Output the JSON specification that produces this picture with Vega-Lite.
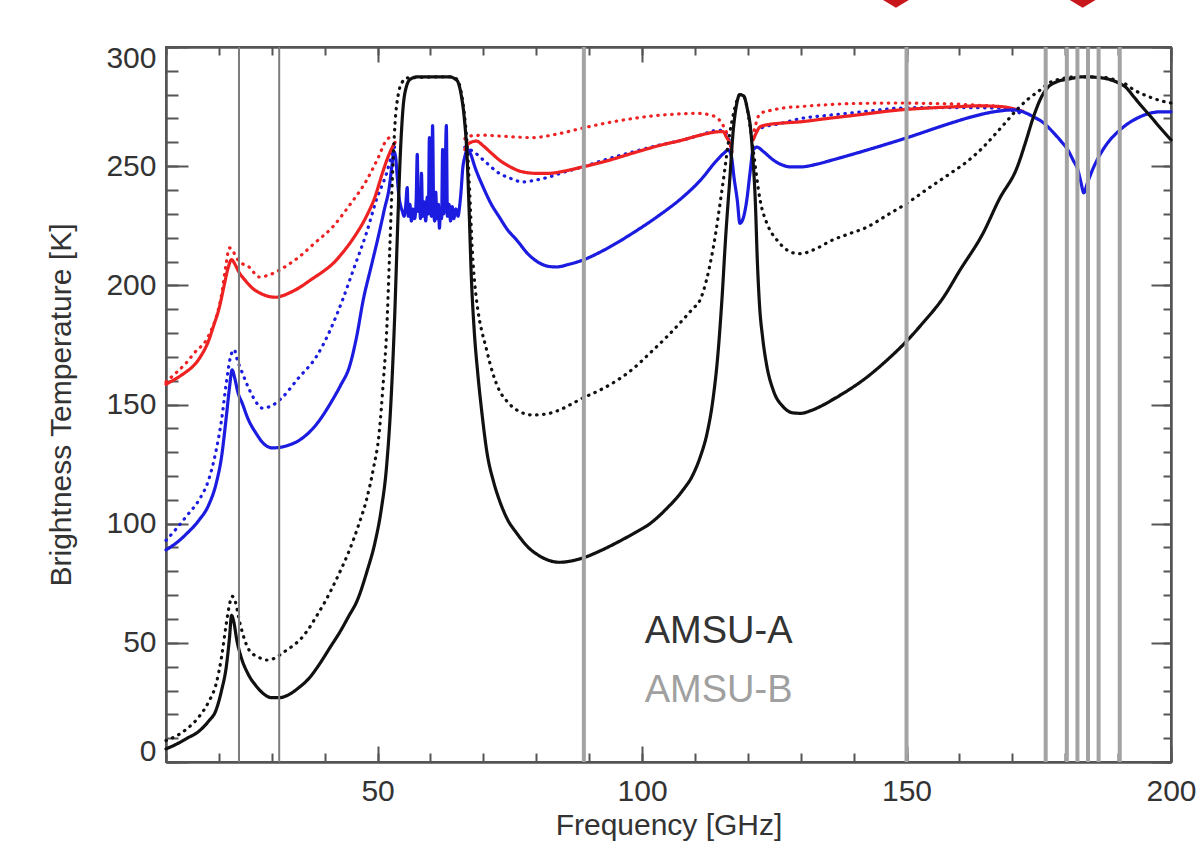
{
  "$schema": "https://vega.github.io/schema/vega-lite/v6.json",
  "width": 1005,
  "height": 715,
  "autosize": "none",
  "padding": {"left": 166, "top": 47, "right": 30, "bottom": 103},
  "background": "#ffffff",
  "config": {
    "view": {"stroke": "#555555", "strokeWidth": 2},
    "axis": {
      "grid": false,
      "domainColor": "#555555",
      "domainWidth": 2,
      "tickColor": "#555555",
      "tickWidth": 2,
      "labelColor": "#333333",
      "labelFont": "Liberation Sans",
      "labelFontSize": 30,
      "titleFont": "Liberation Sans",
      "titleFontSize": 30,
      "titleFontWeight": "normal",
      "titleColor": "#333333",
      "labelOverlap": false
    }
  },
  "resolve": {"scale": {"x": "independent", "y": "independent", "color": "independent", "strokeWidth": "independent", "strokeDash": "independent"}, "axis": {"x": "independent", "y": "independent"}},
  "layer": [
    {
      "data": {"values": [
        {"s":"bd","g":"bd1","f":10,"t":93},{"s":"bd","g":"bd1","f":12,"t":98},{"s":"bd","g":"bd1","f":14,"t":103.5},{"s":"bd","g":"bd1","f":16.25,"t":110},{"s":"bd","g":"bd1","f":18,"t":118},{"s":"bd","g":"bd1","f":19.5,"t":131},{"s":"bd","g":"bd1","f":20.5,"t":143.5},{"s":"bd","g":"bd1","f":21.4,"t":159},{"s":"bd","g":"bd1","f":22.2,"t":170},{"s":"bd","g":"bd1","f":22.9,"t":173},{"s":"bd","g":"bd1","f":23.5,"t":168.5},{"s":"bd","g":"bd1","f":24.3,"t":164},{"s":"bd","g":"bd1","f":25.2,"t":159},{"s":"bd","g":"bd1","f":26.5,"t":153},{"s":"bd","g":"bd1","f":28.2,"t":148.5},{"s":"bd","g":"bd1","f":30,"t":149.5},{"s":"bd","g":"bd1","f":32,"t":153},{"s":"bd","g":"bd1","f":35,"t":161},{"s":"bd","g":"bd1","f":38.4,"t":170},{"s":"bd","g":"bd1","f":41,"t":181},{"s":"bd","g":"bd1","f":43.4,"t":194},{"s":"bd","g":"bd1","f":45.5,"t":207},{"s":"bd","g":"bd1","f":47.9,"t":222},{"s":"bd","g":"bd1","f":49.8,"t":236},{"s":"bd","g":"bd1","f":51.7,"t":247},{"s":"bd","g":"bd1","f":52.8,"t":255.5},{"s":"bd","g":"bd1","f":53.2,"t":258},
        {"s":"bd","g":"bd2","f":66.5,"t":258},{"s":"bd","g":"bd2","f":67,"t":257.5},{"s":"bd","g":"bd2","f":68.5,"t":255.5},{"s":"bd","g":"bd2","f":70,"t":252.6},{"s":"bd","g":"bd2","f":73,"t":247},{"s":"bd","g":"bd2","f":75,"t":245},{"s":"bd","g":"bd2","f":77.4,"t":243.4},{"s":"bd","g":"bd2","f":80,"t":244.2},{"s":"bd","g":"bd2","f":82.5,"t":245.5},{"s":"bd","g":"bd2","f":85,"t":247.3},{"s":"bd","g":"bd2","f":88.8,"t":249.7},{"s":"bd","g":"bd2","f":93,"t":252.7},{"s":"bd","g":"bd2","f":98.3,"t":256},{"s":"bd","g":"bd2","f":103,"t":258.7},{"s":"bd","g":"bd2","f":107.7,"t":261},{"s":"bd","g":"bd2","f":111,"t":263},{"s":"bd","g":"bd2","f":114.2,"t":265},{"s":"bd","g":"bd2","f":115.3,"t":265},{"s":"bd","g":"bd2","f":116,"t":263.5},{"s":"bd","g":"bd2","f":116.6,"t":260},
        {"s":"bd","g":"bd3","f":121,"t":262},{"s":"bd","g":"bd3","f":121.6,"t":264.5},{"s":"bd","g":"bd3","f":122.5,"t":266},{"s":"bd","g":"bd3","f":126,"t":267.8},{"s":"bd","g":"bd3","f":130,"t":270},{"s":"bd","g":"bd3","f":135,"t":271.3},{"s":"bd","g":"bd3","f":139.4,"t":272.3},{"s":"bd","g":"bd3","f":144,"t":273.4},{"s":"bd","g":"bd3","f":148.8,"t":274.4},{"s":"bd","g":"bd3","f":155,"t":274.6},{"s":"bd","g":"bd3","f":160,"t":274.6},{"s":"bd","g":"bd3","f":164,"t":274.5},{"s":"bd","g":"bd3","f":167.8,"t":274.4},{"s":"bd","g":"bd3","f":170,"t":273.3},{"s":"bd","g":"bd3","f":171.5,"t":272.3},

        {"s":"rd","g":"rd1","f":10,"t":159.5},{"s":"rd","g":"rd1","f":12,"t":163.5},{"s":"rd","g":"rd1","f":13.8,"t":167.4},{"s":"rd","g":"rd1","f":15.5,"t":172},{"s":"rd","g":"rd1","f":17.6,"t":177},{"s":"rd","g":"rd1","f":18.7,"t":182},{"s":"rd","g":"rd1","f":19.5,"t":186.7},{"s":"rd","g":"rd1","f":20.5,"t":196},{"s":"rd","g":"rd1","f":21.3,"t":208},{"s":"rd","g":"rd1","f":22,"t":215.7},{"s":"rd","g":"rd1","f":22.6,"t":214.5},{"s":"rd","g":"rd1","f":23.5,"t":211},{"s":"rd","g":"rd1","f":24.5,"t":209},{"s":"rd","g":"rd1","f":25.7,"t":207.7},{"s":"rd","g":"rd1","f":27.6,"t":203.5},{"s":"rd","g":"rd1","f":29,"t":204},{"s":"rd","g":"rd1","f":30.8,"t":205.6},{"s":"rd","g":"rd1","f":33,"t":208.5},{"s":"rd","g":"rd1","f":35.2,"t":212},{"s":"rd","g":"rd1","f":38,"t":217.5},{"s":"rd","g":"rd1","f":41.5,"t":224.5},{"s":"rd","g":"rd1","f":44.5,"t":233},{"s":"rd","g":"rd1","f":47.9,"t":244},{"s":"rd","g":"rd1","f":50,"t":253},{"s":"rd","g":"rd1","f":51.7,"t":261},{"s":"rd","g":"rd1","f":52.2,"t":262},
        {"s":"rd","g":"rd2","f":66.5,"t":261.5},{"s":"rd","g":"rd2","f":67,"t":262.5},{"s":"rd","g":"rd2","f":70,"t":263},{"s":"rd","g":"rd2","f":74,"t":262.5},{"s":"rd","g":"rd2","f":79.3,"t":262},{"s":"rd","g":"rd2","f":84,"t":263.5},{"s":"rd","g":"rd2","f":88.8,"t":266},{"s":"rd","g":"rd2","f":93,"t":268},{"s":"rd","g":"rd2","f":98.3,"t":270},{"s":"rd","g":"rd2","f":103,"t":271.3},{"s":"rd","g":"rd2","f":107.7,"t":272},{"s":"rd","g":"rd2","f":110.5,"t":272.2},{"s":"rd","g":"rd2","f":112.8,"t":271.5},{"s":"rd","g":"rd2","f":114,"t":270.5},{"s":"rd","g":"rd2","f":115.1,"t":268},{"s":"rd","g":"rd2","f":115.8,"t":265},{"s":"rd","g":"rd2","f":116.4,"t":262},
        {"s":"rd","g":"rd3","f":121.2,"t":265},{"s":"rd","g":"rd3","f":122.3,"t":272},{"s":"rd","g":"rd3","f":124.5,"t":273.5},{"s":"rd","g":"rd3","f":127,"t":274.5},{"s":"rd","g":"rd3","f":129.9,"t":275},{"s":"rd","g":"rd3","f":135,"t":275.8},{"s":"rd","g":"rd3","f":140,"t":276.3},{"s":"rd","g":"rd3","f":148.8,"t":276.5},{"s":"rd","g":"rd3","f":155,"t":276.3},{"s":"rd","g":"rd3","f":160,"t":276},{"s":"rd","g":"rd3","f":164,"t":275.5},{"s":"rd","g":"rd3","f":167.8,"t":275},{"s":"rd","g":"rd3","f":170,"t":274},{"s":"rd","g":"rd3","f":171.5,"t":272.8},

        {"s":"rs","g":"rs1","f":10,"t":158.5},{"s":"rs","g":"rs1","f":12,"t":161},{"s":"rs","g":"rs1","f":14,"t":164},{"s":"rs","g":"rs1","f":15,"t":165.8},{"s":"rs","g":"rs1","f":16.5,"t":170},{"s":"rs","g":"rs1","f":18.1,"t":177},{"s":"rs","g":"rs1","f":19,"t":183},{"s":"rs","g":"rs1","f":20,"t":190},{"s":"rs","g":"rs1","f":21,"t":200},{"s":"rs","g":"rs1","f":21.7,"t":207},{"s":"rs","g":"rs1","f":22.4,"t":210.8},{"s":"rs","g":"rs1","f":23,"t":209},{"s":"rs","g":"rs1","f":23.8,"t":205.5},{"s":"rs","g":"rs1","f":25,"t":202},{"s":"rs","g":"rs1","f":26.5,"t":198.5},{"s":"rs","g":"rs1","f":28,"t":196.5},{"s":"rs","g":"rs1","f":29.5,"t":195.3},{"s":"rs","g":"rs1","f":30.8,"t":195},{"s":"rs","g":"rs1","f":32,"t":195.6},{"s":"rs","g":"rs1","f":33.5,"t":197},{"s":"rs","g":"rs1","f":35.2,"t":199},{"s":"rs","g":"rs1","f":37.5,"t":202.5},{"s":"rs","g":"rs1","f":39.5,"t":205.5},{"s":"rs","g":"rs1","f":41.5,"t":209},{"s":"rs","g":"rs1","f":43.5,"t":214},{"s":"rs","g":"rs1","f":45.5,"t":220},{"s":"rs","g":"rs1","f":47.9,"t":229},{"s":"rs","g":"rs1","f":49.5,"t":237},{"s":"rs","g":"rs1","f":50.9,"t":247},{"s":"rs","g":"rs1","f":52,"t":254},{"s":"rs","g":"rs1","f":52.8,"t":258},{"s":"rs","g":"rs1","f":53.3,"t":260},
        {"s":"rs","g":"rs2","f":66.5,"t":257},{"s":"rs","g":"rs2","f":67.2,"t":259.5},{"s":"rs","g":"rs2","f":68.7,"t":260.5},{"s":"rs","g":"rs2","f":70,"t":258.5},{"s":"rs","g":"rs2","f":71.5,"t":255.5},{"s":"rs","g":"rs2","f":73,"t":252.6},{"s":"rs","g":"rs2","f":75,"t":249.8},{"s":"rs","g":"rs2","f":77.4,"t":247.6},{"s":"rs","g":"rs2","f":80,"t":247},{"s":"rs","g":"rs2","f":82.5,"t":247},{"s":"rs","g":"rs2","f":85,"t":247.8},{"s":"rs","g":"rs2","f":88.8,"t":249.7},{"s":"rs","g":"rs2","f":93,"t":252},{"s":"rs","g":"rs2","f":98.3,"t":255.5},{"s":"rs","g":"rs2","f":103,"t":258.5},{"s":"rs","g":"rs2","f":107.7,"t":261},{"s":"rs","g":"rs2","f":111,"t":263},{"s":"rs","g":"rs2","f":114.2,"t":264.4},{"s":"rs","g":"rs2","f":115.3,"t":264.5},{"s":"rs","g":"rs2","f":116,"t":262},{"s":"rs","g":"rs2","f":116.6,"t":259.5},{"s":"rs","g":"rs2","f":117,"t":256},
        {"s":"rs","g":"rs3","f":121,"t":261},{"s":"rs","g":"rs3","f":121.6,"t":264},{"s":"rs","g":"rs3","f":122.3,"t":266.5},{"s":"rs","g":"rs3","f":124,"t":267.5},{"s":"rs","g":"rs3","f":126,"t":268},{"s":"rs","g":"rs3","f":129.9,"t":268.6},{"s":"rs","g":"rs3","f":135,"t":270},{"s":"rs","g":"rs3","f":140,"t":271.3},{"s":"rs","g":"rs3","f":148.8,"t":273.6},{"s":"rs","g":"rs3","f":155,"t":274.5},{"s":"rs","g":"rs3","f":160,"t":275},{"s":"rs","g":"rs3","f":164,"t":275.3},{"s":"rs","g":"rs3","f":167.8,"t":275},{"s":"rs","g":"rs3","f":170,"t":274.2},{"s":"rs","g":"rs3","f":172,"t":273},

        {"s":"bs","g":"bs","f":10,"t":89},{"s":"bs","g":"bs","f":12,"t":92},{"s":"bs","g":"bs","f":14,"t":96},{"s":"bs","g":"bs","f":16.25,"t":101.5},{"s":"bs","g":"bs","f":18,"t":107.5},{"s":"bs","g":"bs","f":19.5,"t":117},{"s":"bs","g":"bs","f":20.5,"t":128},{"s":"bs","g":"bs","f":21.4,"t":144.8},{"s":"bs","g":"bs","f":22,"t":157},{"s":"bs","g":"bs","f":22.5,"t":164.5},{"s":"bs","g":"bs","f":23,"t":161},{"s":"bs","g":"bs","f":23.6,"t":155},{"s":"bs","g":"bs","f":24.4,"t":150.6},{"s":"bs","g":"bs","f":25.5,"t":144},{"s":"bs","g":"bs","f":27,"t":138},{"s":"bs","g":"bs","f":28.5,"t":133.5},{"s":"bs","g":"bs","f":30.1,"t":131.8},{"s":"bs","g":"bs","f":31.5,"t":132},{"s":"bs","g":"bs","f":33,"t":132.8},{"s":"bs","g":"bs","f":35.2,"t":135},{"s":"bs","g":"bs","f":38,"t":140.5},{"s":"bs","g":"bs","f":41.5,"t":152},{"s":"bs","g":"bs","f":43,"t":158},{"s":"bs","g":"bs","f":44.7,"t":166},{"s":"bs","g":"bs","f":46,"t":178},{"s":"bs","g":"bs","f":47.3,"t":194},{"s":"bs","g":"bs","f":48.8,"t":208},{"s":"bs","g":"bs","f":50.3,"t":222},{"s":"bs","g":"bs","f":51.3,"t":232},{"s":"bs","g":"bs","f":52.2,"t":241},{"s":"bs","g":"bs","f":52.7,"t":250},{"s":"bs","g":"bs","f":53.1,"t":256},{"s":"bs","g":"bs","f":53.4,"t":254},{"s":"bs","g":"bs","f":53.7,"t":246},{"s":"bs","g":"bs","f":54,"t":238},{"s":"bs","g":"bs","f":54.4,"t":233},{"s":"bs","g":"bs","f":54.7,"t":231},
        {"s":"bs","g":"bs","f":55,"t":229},{"s":"bs","g":"bs","f":55.3,"t":233},{"s":"bs","g":"bs","f":55.6,"t":241},{"s":"bs","g":"bs","f":55.8,"t":229},{"s":"bs","g":"bs","f":56.1,"t":234},{"s":"bs","g":"bs","f":56.4,"t":227},{"s":"bs","g":"bs","f":56.7,"t":232},{"s":"bs","g":"bs","f":57,"t":228},{"s":"bs","g":"bs","f":57.3,"t":236},{"s":"bs","g":"bs","f":57.5,"t":255},{"s":"bs","g":"bs","f":57.7,"t":231},{"s":"bs","g":"bs","f":57.9,"t":240},{"s":"bs","g":"bs","f":58.1,"t":228},{"s":"bs","g":"bs","f":58.3,"t":247},{"s":"bs","g":"bs","f":58.5,"t":229},{"s":"bs","g":"bs","f":58.8,"t":235},{"s":"bs","g":"bs","f":59.1,"t":227},{"s":"bs","g":"bs","f":59.4,"t":237},{"s":"bs","g":"bs","f":59.6,"t":230},{"s":"bs","g":"bs","f":59.8,"t":262},{"s":"bs","g":"bs","f":60,"t":235},{"s":"bs","g":"bs","f":60.2,"t":229},{"s":"bs","g":"bs","f":60.4,"t":267},{"s":"bs","g":"bs","f":60.6,"t":232},{"s":"bs","g":"bs","f":60.8,"t":227},{"s":"bs","g":"bs","f":61,"t":239},{"s":"bs","g":"bs","f":61.2,"t":228},{"s":"bs","g":"bs","f":61.5,"t":234},{"s":"bs","g":"bs","f":61.7,"t":224},{"s":"bs","g":"bs","f":61.9,"t":232},{"s":"bs","g":"bs","f":62.1,"t":228},{"s":"bs","g":"bs","f":62.3,"t":257},{"s":"bs","g":"bs","f":62.5,"t":230},{"s":"bs","g":"bs","f":62.7,"t":236},{"s":"bs","g":"bs","f":63,"t":267},{"s":"bs","g":"bs","f":63.2,"t":229},{"s":"bs","g":"bs","f":63.5,"t":234},{"s":"bs","g":"bs","f":63.8,"t":227},{"s":"bs","g":"bs","f":64.1,"t":233},{"s":"bs","g":"bs","f":64.4,"t":228},{"s":"bs","g":"bs","f":64.8,"t":232},{"s":"bs","g":"bs","f":65.2,"t":229},{"s":"bs","g":"bs","f":65.5,"t":233},{"s":"bs","g":"bs","f":65.8,"t":240},{"s":"bs","g":"bs","f":66.1,"t":249},{"s":"bs","g":"bs","f":66.5,"t":254},{"s":"bs","g":"bs","f":67,"t":257},
        {"s":"bs","g":"bs","f":67.5,"t":255.5},{"s":"bs","g":"bs","f":68.5,"t":249},{"s":"bs","g":"bs","f":70,"t":241},{"s":"bs","g":"bs","f":71.5,"t":234},{"s":"bs","g":"bs","f":73,"t":228.7},{"s":"bs","g":"bs","f":74.5,"t":223.5},{"s":"bs","g":"bs","f":76.3,"t":219},{"s":"bs","g":"bs","f":78.5,"t":213},{"s":"bs","g":"bs","f":80.6,"t":209.4},{"s":"bs","g":"bs","f":82.2,"t":208},{"s":"bs","g":"bs","f":83.8,"t":207.7},{"s":"bs","g":"bs","f":86,"t":208.7},{"s":"bs","g":"bs","f":88.8,"t":210.6},{"s":"bs","g":"bs","f":93,"t":215},{"s":"bs","g":"bs","f":98.3,"t":222},{"s":"bs","g":"bs","f":103,"t":229},{"s":"bs","g":"bs","f":107.7,"t":237},{"s":"bs","g":"bs","f":111,"t":244},{"s":"bs","g":"bs","f":114.2,"t":252.6},{"s":"bs","g":"bs","f":115.5,"t":255.5},{"s":"bs","g":"bs","f":116.3,"t":256.8},{"s":"bs","g":"bs","f":116.9,"t":254},{"s":"bs","g":"bs","f":117.4,"t":245},{"s":"bs","g":"bs","f":118,"t":235.8},{"s":"bs","g":"bs","f":118.5,"t":226},{"s":"bs","g":"bs","f":119.1,"t":228},{"s":"bs","g":"bs","f":119.8,"t":235.8},{"s":"bs","g":"bs","f":120.4,"t":247},{"s":"bs","g":"bs","f":121,"t":256.8},{"s":"bs","g":"bs","f":121.7,"t":258},{"s":"bs","g":"bs","f":123,"t":256},{"s":"bs","g":"bs","f":124.8,"t":252.6},{"s":"bs","g":"bs","f":126.5,"t":250.5},{"s":"bs","g":"bs","f":128,"t":249.7},{"s":"bs","g":"bs","f":130,"t":249.7},{"s":"bs","g":"bs","f":133,"t":250.8},{"s":"bs","g":"bs","f":136,"t":252.6},{"s":"bs","g":"bs","f":142.6,"t":256.8},{"s":"bs","g":"bs","f":150.2,"t":262},{"s":"bs","g":"bs","f":158.3,"t":268},{"s":"bs","g":"bs","f":162.5,"t":270.8},{"s":"bs","g":"bs","f":166.5,"t":272.8},{"s":"bs","g":"bs","f":170.2,"t":273.6},{"s":"bs","g":"bs","f":172,"t":272.8},{"s":"bs","g":"bs","f":174,"t":270.7},{"s":"bs","g":"bs","f":176,"t":268},{"s":"bs","g":"bs","f":177.8,"t":264},{"s":"bs","g":"bs","f":179.2,"t":260.5},{"s":"bs","g":"bs","f":180.5,"t":256.8},{"s":"bs","g":"bs","f":181.5,"t":252.5},{"s":"bs","g":"bs","f":182.4,"t":248.4},{"s":"bs","g":"bs","f":183,"t":243},{"s":"bs","g":"bs","f":183.5,"t":238.8},{"s":"bs","g":"bs","f":184.2,"t":243},{"s":"bs","g":"bs","f":185.4,"t":249.7},{"s":"bs","g":"bs","f":186.5,"t":254.5},{"s":"bs","g":"bs","f":188,"t":259.7},{"s":"bs","g":"bs","f":190,"t":264.5},{"s":"bs","g":"bs","f":191.5,"t":267.3},{"s":"bs","g":"bs","f":193,"t":269.4},{"s":"bs","g":"bs","f":196.2,"t":272.3},{"s":"bs","g":"bs","f":198,"t":272.8},{"s":"bs","g":"bs","f":200,"t":272.8},

        {"s":"ks","g":"ks","f":10,"t":5.5},{"s":"ks","g":"ks","f":12,"t":7.5},{"s":"ks","g":"ks","f":14,"t":10},{"s":"ks","g":"ks","f":16,"t":12.5},{"s":"ks","g":"ks","f":18,"t":17},{"s":"ks","g":"ks","f":19.5,"t":22},{"s":"ks","g":"ks","f":20.5,"t":30},{"s":"ks","g":"ks","f":21.4,"t":40},{"s":"ks","g":"ks","f":22,"t":52},{"s":"ks","g":"ks","f":22.4,"t":61.5},{"s":"ks","g":"ks","f":22.8,"t":59},{"s":"ks","g":"ks","f":23.4,"t":51},{"s":"ks","g":"ks","f":24.2,"t":44},{"s":"ks","g":"ks","f":25.5,"t":37},{"s":"ks","g":"ks","f":27,"t":32},{"s":"ks","g":"ks","f":28.5,"t":28.5},{"s":"ks","g":"ks","f":30,"t":27},{"s":"ks","g":"ks","f":31.5,"t":27},{"s":"ks","g":"ks","f":33,"t":28},{"s":"ks","g":"ks","f":35,"t":31},{"s":"ks","g":"ks","f":37,"t":35},{"s":"ks","g":"ks","f":39,"t":41},{"s":"ks","g":"ks","f":41,"t":48},{"s":"ks","g":"ks","f":43,"t":55},{"s":"ks","g":"ks","f":44.5,"t":61},{"s":"ks","g":"ks","f":46.2,"t":68},{"s":"ks","g":"ks","f":48,"t":80},{"s":"ks","g":"ks","f":49.5,"t":92},{"s":"ks","g":"ks","f":50.7,"t":106},{"s":"ks","g":"ks","f":51.7,"t":124},{"s":"ks","g":"ks","f":52.5,"t":150},{"s":"ks","g":"ks","f":53.2,"t":185},{"s":"ks","g":"ks","f":53.8,"t":225},{"s":"ks","g":"ks","f":54.3,"t":255},{"s":"ks","g":"ks","f":54.8,"t":274},{"s":"ks","g":"ks","f":55.4,"t":283},{"s":"ks","g":"ks","f":56.2,"t":286.5},{"s":"ks","g":"ks","f":57.5,"t":287.5},{"s":"ks","g":"ks","f":63.5,"t":287.5},{"s":"ks","g":"ks","f":65,"t":286},{"s":"ks","g":"ks","f":65.8,"t":280},{"s":"ks","g":"ks","f":66.4,"t":270},{"s":"ks","g":"ks","f":66.9,"t":255},{"s":"ks","g":"ks","f":67.3,"t":232},{"s":"ks","g":"ks","f":67.7,"t":205},{"s":"ks","g":"ks","f":68.3,"t":180},{"s":"ks","g":"ks","f":68.9,"t":164},{"s":"ks","g":"ks","f":69.8,"t":145},{"s":"ks","g":"ks","f":70.6,"t":131},{"s":"ks","g":"ks","f":72,"t":117},{"s":"ks","g":"ks","f":73,"t":110},{"s":"ks","g":"ks","f":74.5,"t":102},{"s":"ks","g":"ks","f":76.3,"t":96},{"s":"ks","g":"ks","f":78.5,"t":90},{"s":"ks","g":"ks","f":80.6,"t":86.5},{"s":"ks","g":"ks","f":82.5,"t":84.5},{"s":"ks","g":"ks","f":84.4,"t":83.8},{"s":"ks","g":"ks","f":86.5,"t":84.3},{"s":"ks","g":"ks","f":88.8,"t":85.6},{"s":"ks","g":"ks","f":92,"t":88.5},{"s":"ks","g":"ks","f":95.2,"t":92},{"s":"ks","g":"ks","f":98.5,"t":96},{"s":"ks","g":"ks","f":101.5,"t":100},{"s":"ks","g":"ks","f":104.5,"t":106},{"s":"ks","g":"ks","f":107.7,"t":114},{"s":"ks","g":"ks","f":109.5,"t":120},{"s":"ks","g":"ks","f":111,"t":128},{"s":"ks","g":"ks","f":112.3,"t":138},{"s":"ks","g":"ks","f":113.4,"t":152},{"s":"ks","g":"ks","f":114.3,"t":170},{"s":"ks","g":"ks","f":115.1,"t":194},{"s":"ks","g":"ks","f":115.8,"t":220},{"s":"ks","g":"ks","f":116.6,"t":245},{"s":"ks","g":"ks","f":117.2,"t":264},{"s":"ks","g":"ks","f":117.8,"t":275},{"s":"ks","g":"ks","f":118.5,"t":280},{"s":"ks","g":"ks","f":119.2,"t":279.5},{"s":"ks","g":"ks","f":119.9,"t":274},{"s":"ks","g":"ks","f":120.5,"t":266},{"s":"ks","g":"ks","f":121,"t":252},{"s":"ks","g":"ks","f":121.4,"t":236},{"s":"ks","g":"ks","f":121.8,"t":210},{"s":"ks","g":"ks","f":122.2,"t":192},{"s":"ks","g":"ks","f":122.8,"t":178},{"s":"ks","g":"ks","f":123.6,"t":166},{"s":"ks","g":"ks","f":124.8,"t":156},{"s":"ks","g":"ks","f":126.7,"t":149},{"s":"ks","g":"ks","f":128.5,"t":146.5},{"s":"ks","g":"ks","f":130,"t":146.3},{"s":"ks","g":"ks","f":132,"t":147.5},{"s":"ks","g":"ks","f":134,"t":149.5},{"s":"ks","g":"ks","f":136,"t":152},{"s":"ks","g":"ks","f":139,"t":156},{"s":"ks","g":"ks","f":142.6,"t":161.6},{"s":"ks","g":"ks","f":146,"t":168},{"s":"ks","g":"ks","f":150.2,"t":177},{"s":"ks","g":"ks","f":153,"t":184},{"s":"ks","g":"ks","f":157,"t":195},{"s":"ks","g":"ks","f":160,"t":206},{"s":"ks","g":"ks","f":164.5,"t":222},{"s":"ks","g":"ks","f":167.5,"t":236},{"s":"ks","g":"ks","f":171,"t":250},{"s":"ks","g":"ks","f":172.5,"t":260},{"s":"ks","g":"ks","f":174,"t":270.7},{"s":"ks","g":"ks","f":175.5,"t":279},{"s":"ks","g":"ks","f":176.7,"t":283},{"s":"ks","g":"ks","f":178.5,"t":285.5},{"s":"ks","g":"ks","f":180.5,"t":286.5},{"s":"ks","g":"ks","f":183.5,"t":287.5},{"s":"ks","g":"ks","f":187,"t":287},{"s":"ks","g":"ks","f":190,"t":285},{"s":"ks","g":"ks","f":191.5,"t":283},{"s":"ks","g":"ks","f":193,"t":279},{"s":"ks","g":"ks","f":194.5,"t":275},{"s":"ks","g":"ks","f":196.2,"t":270.7},{"s":"ks","g":"ks","f":198,"t":266},{"s":"ks","g":"ks","f":200,"t":261},

        {"s":"kd","g":"kd","f":10,"t":9},{"s":"kd","g":"kd","f":12,"t":11},{"s":"kd","g":"kd","f":14,"t":14},{"s":"kd","g":"kd","f":16.25,"t":19},{"s":"kd","g":"kd","f":18,"t":25},{"s":"kd","g":"kd","f":19.5,"t":33},{"s":"kd","g":"kd","f":20.5,"t":44},{"s":"kd","g":"kd","f":21.4,"t":58},{"s":"kd","g":"kd","f":22,"t":66},{"s":"kd","g":"kd","f":22.5,"t":69.5},{"s":"kd","g":"kd","f":23,"t":68},{"s":"kd","g":"kd","f":24,"t":58},{"s":"kd","g":"kd","f":25.7,"t":47},{"s":"kd","g":"kd","f":27.5,"t":44},{"s":"kd","g":"kd","f":29,"t":42.8},{"s":"kd","g":"kd","f":30.5,"t":43.5},{"s":"kd","g":"kd","f":32,"t":45.7},{"s":"kd","g":"kd","f":33.5,"t":48},{"s":"kd","g":"kd","f":35.2,"t":51},{"s":"kd","g":"kd","f":37,"t":56},{"s":"kd","g":"kd","f":38.4,"t":61},{"s":"kd","g":"kd","f":40,"t":67},{"s":"kd","g":"kd","f":42.5,"t":78},{"s":"kd","g":"kd","f":44.7,"t":89},{"s":"kd","g":"kd","f":46.5,"t":100},{"s":"kd","g":"kd","f":47.9,"t":110},{"s":"kd","g":"kd","f":49.2,"t":123},{"s":"kd","g":"kd","f":50.3,"t":138},{"s":"kd","g":"kd","f":51.1,"t":160},{"s":"kd","g":"kd","f":51.7,"t":180},{"s":"kd","g":"kd","f":52.3,"t":215},{"s":"kd","g":"kd","f":52.8,"t":245},{"s":"kd","g":"kd","f":53.3,"t":268},{"s":"kd","g":"kd","f":53.9,"t":280},{"s":"kd","g":"kd","f":54.6,"t":285},{"s":"kd","g":"kd","f":55.5,"t":287},{"s":"kd","g":"kd","f":63.5,"t":287.5},{"s":"kd","g":"kd","f":65,"t":286.5},{"s":"kd","g":"kd","f":65.8,"t":281},{"s":"kd","g":"kd","f":66.4,"t":272},{"s":"kd","g":"kd","f":66.9,"t":260},{"s":"kd","g":"kd","f":67.4,"t":240},{"s":"kd","g":"kd","f":67.9,"t":215},{"s":"kd","g":"kd","f":68.4,"t":200},{"s":"kd","g":"kd","f":68.7,"t":194},{"s":"kd","g":"kd","f":70.6,"t":173},{"s":"kd","g":"kd","f":71.8,"t":163},{"s":"kd","g":"kd","f":73,"t":156},{"s":"kd","g":"kd","f":74.6,"t":151},{"s":"kd","g":"kd","f":76.3,"t":147.7},{"s":"kd","g":"kd","f":79.3,"t":145.6},{"s":"kd","g":"kd","f":81.8,"t":146},{"s":"kd","g":"kd","f":84.4,"t":147.7},{"s":"kd","g":"kd","f":86.5,"t":150},{"s":"kd","g":"kd","f":88.8,"t":152.7},{"s":"kd","g":"kd","f":92,"t":156},{"s":"kd","g":"kd","f":95.2,"t":160},{"s":"kd","g":"kd","f":98.3,"t":165},{"s":"kd","g":"kd","f":101.5,"t":171.6},{"s":"kd","g":"kd","f":104.5,"t":178},{"s":"kd","g":"kd","f":107.7,"t":185.5},{"s":"kd","g":"kd","f":109.5,"t":190},{"s":"kd","g":"kd","f":111,"t":194},{"s":"kd","g":"kd","f":113.4,"t":215},{"s":"kd","g":"kd","f":115.3,"t":243},{"s":"kd","g":"kd","f":116.6,"t":264},{"s":"kd","g":"kd","f":117.5,"t":274},{"s":"kd","g":"kd","f":118.5,"t":280},{"s":"kd","g":"kd","f":119.3,"t":279},{"s":"kd","g":"kd","f":120.2,"t":270},{"s":"kd","g":"kd","f":121,"t":257},{"s":"kd","g":"kd","f":122.3,"t":236},{"s":"kd","g":"kd","f":123.8,"t":225},{"s":"kd","g":"kd","f":125.5,"t":219},{"s":"kd","g":"kd","f":127,"t":215.5},{"s":"kd","g":"kd","f":128.6,"t":213.6},{"s":"kd","g":"kd","f":130,"t":213.3},{"s":"kd","g":"kd","f":133,"t":215.5},{"s":"kd","g":"kd","f":136,"t":219},{"s":"kd","g":"kd","f":139,"t":221.5},{"s":"kd","g":"kd","f":142.6,"t":224.5},{"s":"kd","g":"kd","f":146,"t":229},{"s":"kd","g":"kd","f":150.2,"t":234.6},{"s":"kd","g":"kd","f":154,"t":240.5},{"s":"kd","g":"kd","f":158.3,"t":247},{"s":"kd","g":"kd","f":161.5,"t":252},{"s":"kd","g":"kd","f":164.5,"t":258},{"s":"kd","g":"kd","f":167,"t":264},{"s":"kd","g":"kd","f":169,"t":269},{"s":"kd","g":"kd","f":171,"t":274},{"s":"kd","g":"kd","f":172.9,"t":278},{"s":"kd","g":"kd","f":175.3,"t":282},{"s":"kd","g":"kd","f":177,"t":285},{"s":"kd","g":"kd","f":179,"t":286.5},{"s":"kd","g":"kd","f":182,"t":287.5},{"s":"kd","g":"kd","f":186,"t":287.5},{"s":"kd","g":"kd","f":189,"t":286.5},{"s":"kd","g":"kd","f":191,"t":285},{"s":"kd","g":"kd","f":193,"t":282},{"s":"kd","g":"kd","f":196,"t":279},{"s":"kd","g":"kd","f":198,"t":277.5},{"s":"kd","g":"kd","f":200,"t":276.5}
      ]},
      "mark": {"type": "line", "strokeCap": "round", "strokeJoin": "round", "interpolate": "monotone"},
      "encoding": {
        "x": {"field": "f", "type": "quantitative",
              "scale": {"domain": [10, 200], "nice": false, "zero": false},
              "axis": {"orient": "bottom", "title": "Frequency [GHz]", "values": [10,20,30,40,50,60,70,80,90,100,110,120,130,140,150,160,170,180,190,200],
                       "tickSize": -9, "labelPadding": 23, "labelFlush": false, "labelExpr": "datum.value % 50 === 0 ? datum.label : ''", "titlePadding": 4}},
        "y": {"field": "t", "type": "quantitative",
              "scale": {"domain": [0, 300], "nice": false, "zero": false},
              "axis": {"orient": "left", "title": "Brightness Temperature [K]", "values": [0,10,20,30,40,50,60,70,80,90,100,110,120,130,140,150,160,170,180,190,200,210,220,230,240,250,260,270,280,290,300],
                       "tickSize": -12, "labelPadding": 22, "labelFlush": true, "labelFlushOffset": 4, "labelExpr": "datum.value % 50 === 0 ? datum.label : ''", "titlePadding": 29}},
        "color": {"field": "s", "type": "nominal", "legend": null,
                  "scale": {"domain": ["bd","rd","rs","bs","ks","kd"], "range": ["#1c1ce0","#ee2222","#ee2222","#1c1ce0","#111111","#111111"]}},
        "strokeDash": {"field": "s", "type": "nominal", "legend": null,
                  "scale": {"domain": ["bd","rd","rs","bs","ks","kd"], "range": [[0.5,6.5],[0.5,6.5],[1,0],[1,0],[1,0],[0.5,6.5]]}},
        "strokeWidth": {"field": "s", "type": "nominal", "legend": null,
                  "scale": {"domain": ["bd","rd","rs","bs","ks","kd"], "range": [3.2,3.2,2.6,2.6,2.6,3.2]}},
        "detail": {"field": "g"}
      }
    },
    {
      "data": {"values": [
        {"f": 89, "i": "B"}, {"f": 150, "i": "B"}, {"f": 176.31, "i": "B"}, {"f": 180.31, "i": "B"}, {"f": 182.31, "i": "B"}, {"f": 184.31, "i": "B"}, {"f": 186.31, "i": "B"}, {"f": 190.31, "i": "B"},
        {"f": 23.8, "i": "A"}, {"f": 31.4, "i": "A"}
      ]},
      "mark": {"type": "rule"},
      "encoding": {
        "x": {"field": "f", "type": "quantitative",
              "scale": {"domain": [10, 200], "nice": false, "zero": false},
              "axis": {"orient": "top", "title": null, "labels": false, "values": [10,20,30,40,50,60,70,80,90,100,110,120,130,140,150,160,170,180,190,200], "tickSize": -8}},
        "color": {"field": "i", "type": "nominal", "legend": null, "scale": {"domain": ["A","B"], "range": ["#7c7c7c","#a3a3a3"]}},
        "strokeWidth": {"field": "i", "type": "nominal", "legend": null, "scale": {"domain": ["A","B"], "range": [2, 4]}}
      }
    },
    {
      "data": {"values": [
        {"f": 100.5, "t": 50, "label": "AMSU-A"},
        {"f": 100.5, "t": 25, "label": "AMSU-B"}
      ]},
      "mark": {"type": "text", "align": "left", "baseline": "alphabetic", "font": "Liberation Sans", "fontSize": 38},
      "encoding": {
        "x": {"field": "f", "type": "quantitative", "scale": {"domain": [10, 200], "nice": false, "zero": false}, "axis": null},
        "y": {"field": "t", "type": "quantitative", "scale": {"domain": [0, 300], "nice": false, "zero": false},
              "axis": {"orient": "right", "title": null, "labels": false, "values": [0,10,20,30,40,50,60,70,80,90,100,110,120,130,140,150,160,170,180,190,200,210,220,230,240,250,260,270,280,290,300], "tickSize": -8}},
        "text": {"field": "label"},
        "color": {"field": "label", "type": "nominal", "legend": null, "scale": {"domain": ["AMSU-A","AMSU-B"], "range": ["#333333","#a0a0a0"]}}
      }
    },
    {
      "data": {"values": [{"f": 148, "t": 320}]},
      "mark": {"type": "point", "filled": true, "opacity": 1, "shape": "M-1,0L0,-0.6L1,0L0,0.6Z", "size": 784, "color": "#c8161d", "clip": false},
      "encoding": {
        "x": {"field": "f", "type": "quantitative", "scale": {"domain": [10, 200], "nice": false, "zero": false},
              "axis": {"orient": "bottom", "title": null, "labels": false, "values": [50,100,150,200], "tickSize": -16}},
        "y": {"field": "t", "type": "quantitative", "scale": {"domain": [0, 300], "nice": false, "zero": false},
              "axis": {"orient": "left", "title": null, "labels": false, "values": [0,50,100,150,200,250,300], "tickSize": -22}}
      }
    },
    {
      "data": {"values": [{"f": 183.3, "t": 320}]},
      "mark": {"type": "point", "filled": true, "opacity": 1, "shape": "M-1,0L0,-0.6L1,0L0,0.6Z", "size": 784, "color": "#c8161d", "clip": false},
      "encoding": {
        "x": {"field": "f", "type": "quantitative", "scale": {"domain": [10, 200], "nice": false, "zero": false},
              "axis": {"orient": "top", "title": null, "labels": false, "values": [50,100,150,200], "tickSize": -15}},
        "y": {"field": "t", "type": "quantitative", "scale": {"domain": [0, 300], "nice": false, "zero": false},
              "axis": {"orient": "right", "title": null, "labels": false, "values": [0,50,100,150,200,250,300], "tickSize": -20}}
      }
    }
  ]
}
